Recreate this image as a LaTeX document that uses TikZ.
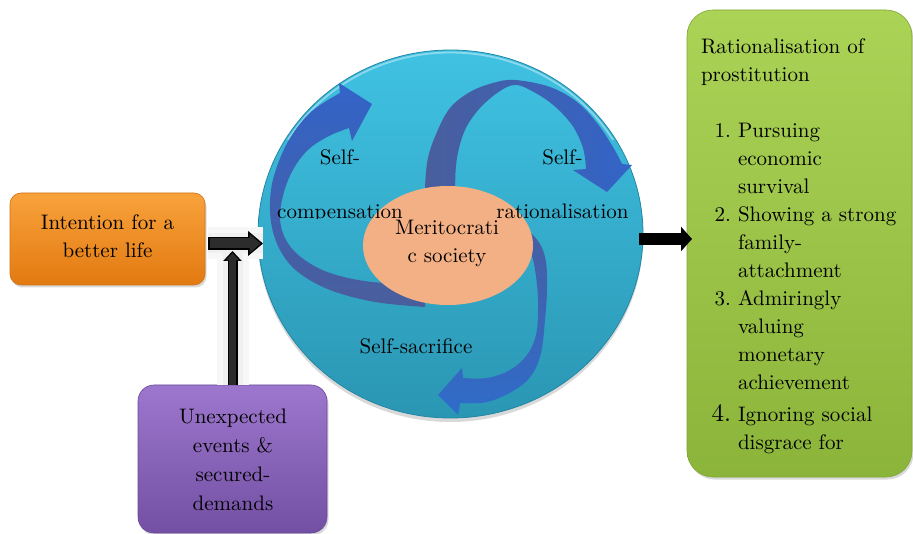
\documentclass[tikz,border=0pt]{standalone}
\usepackage{fontspec}
\setmainfont{lmroman10-regular.otf}
\usetikzlibrary{shapes.geometric,arrows.meta,shadows,calc}
\definecolor{orTop}{HTML}{F9A23C}
\definecolor{orBot}{HTML}{E27A10}
\definecolor{orEdge}{HTML}{D07218}
\definecolor{puTop}{HTML}{9D77CD}
\definecolor{puBot}{HTML}{7350A4}
\definecolor{puEdge}{HTML}{6A4A98}
\definecolor{grTop}{HTML}{ABD356}
\definecolor{grBot}{HTML}{8BB43A}
\definecolor{grEdge}{HTML}{80A636}
\definecolor{ciTop}{HTML}{40C2E3}
\definecolor{ciBot}{HTML}{2A96B3}
\definecolor{ciEdge}{HTML}{2387A4}
\definecolor{meri}{HTML}{F3B084}
\definecolor{blBright}{HTML}{3264C8}
\definecolor{blSlate}{HTML}{4A5E9C}
\definecolor{arrGray}{HTML}{2C2C2C}
\tikzset{
  txt/.style={inner sep=0pt, outer sep=0pt, font=\fontsize{21}{28.5}\selectfont},
  boxnode/.style={rectangle, inner sep=0pt, outer sep=0pt, line width=0.6pt,
    drop shadow={opacity=0.3, shadow xshift=1.5pt, shadow yshift=-2.5pt}},
  halo/.style={line width=32pt, black!3},
  halo2/.style={line width=20pt, black!6}
}
\begin{document}
\begin{tikzpicture}[x=1pt,y=-1pt]
\useasboundingbox (0,0) rectangle (913,534);

% boxes
\node[boxnode, minimum width=195pt, minimum height=92pt, rounded corners=11pt,
  top color=orTop, bottom color=orBot, draw=orEdge] (orange) at (107.5,239) {};
\node[boxnode, minimum width=189pt, minimum height=148pt, rounded corners=16pt,
  top color=puTop, bottom color=puBot, draw=puEdge] (purple) at (232.5,459) {};
\node[boxnode, minimum width=225pt, minimum height=467pt, rounded corners=26pt,
  top color=grTop, bottom color=grBot, draw=grEdge] (green) at (799.5,243.5) {};

% big circle
\node[ellipse, minimum width=385pt, minimum height=368pt, inner sep=0pt,
  top color=ciTop, bottom color=ciBot, draw=ciEdge, line width=0.8pt,
  drop shadow={opacity=0.3, shadow xshift=0pt, shadow yshift=-4pt}] (circ) at (450.5,234) {};
\begin{scope}
  \clip (250,40) rectangle (660,140);
  \draw[white, opacity=0.4, line width=1.8pt] (circ.center) ellipse [x radius=190pt, y radius=181.5pt];
\end{scope}

% connector coordinates
\coordinate (ls) at ($(orange.east)+(3,4.5)$);
\coordinate (le) at ($(circ.west)+(5.5,9.5)$);
\coordinate (vs) at (purple.north);
\coordinate (ve) at ($(purple.north |- ls)+(0,7.5)$);
\coordinate (rs) at ($(circ.east)+(-4,5)$);
\coordinate (re) at ($(green.west)+(5,-4.5)$);

% halos
\draw[halo] (vs) -- (ve);
\draw[halo] (ls) -- (le);
\draw[halo2] (vs) -- (ve);
\draw[halo2] (ls) -- (le);

% vertical arrow
\draw[line width=10pt, -{Triangle[length=10pt,width=18pt]}] (vs) -- (ve);
\draw[line width=7pt, arrGray, -{Triangle[length=7.5pt,width=13pt]}, shorten >=2pt] (vs) -- (ve);
% horizontal left arrow
\draw[line width=13pt, -{Triangle[length=15pt,width=24pt]}] (ls) -- (le);
\draw[line width=10pt, arrGray, -{Triangle[length=11pt,width=18pt]}, shorten >=2.4pt] ($(ls)+(1.5,0)$) -- (le);
% right arrow
\draw[line width=12pt, -{Triangle[length=11pt,width=24pt]}] (rs) -- (re);

% swirl arrow 1 (self-compensation)
\shade[top color=blBright, middle color=blBright!80!blSlate, bottom color=blSlate]
  plot[smooth, tension=0.6] coordinates {(425,307) (375,302) (330,290) (298,272) (280,250) (271,222) (271,190) (279,161) (292,135) (312,111) (340,93)}
  -- (339,83) -- (372,104) -- (352,141)
  -- plot[smooth, tension=0.6] coordinates {(349,128) (329,136) (309,149) (294,168) (284,192) (280,218) (286,240) (302,258) (330,273) (372,282) (425,284)}
  -- cycle;
% swirl arrow 2 (self-rationalisation)
\shade[left color=blSlate, middle color=blSlate!50!blBright, right color=blBright]
  plot[smooth, tension=0.6] coordinates {(425,215) (425,188) (428,158) (437,132) (450,108) (470,92) (493,83) (515,80) (550,87) (577,102) (597,123) (613,147) (622,164)}
  -- (632,165) -- (607,192) -- (573,170)
  -- plot[smooth, tension=0.6] coordinates {(586,169) (583,148) (572,125) (552,104) (530,90) (515,85) (500,91) (480,108) (465,130) (457,158) (455,188) (455,215)}
  -- cycle;
% swirl arrow 3 (self-sacrifice)
\shade[top color=blSlate!85!blBright, bottom color=blBright!95!cyan]
  plot[smooth, tension=0.6] coordinates {(520,232) (532,256) (537,285) (538,310) (536,335) (527,355) (510,370) (487,378) (463,378)}
  -- (462,368) -- (438,395) -- (458,415)
  -- plot[smooth, tension=0.6] coordinates {(460,403) (487,402) (513,391) (531,376) (541,353) (545,320) (547,290) (546,262) (540,244) (528,230)}
  -- cycle;

% central ellipse
\node[ellipse, minimum width=170pt, minimum height=119pt, inner sep=0pt, fill=meri] (meri) at (448,245.5) {};

% texts
\node[txt, anchor=base] (otext) at (107.5,229.5)
  {\begin{tabular}[t]{@{}c@{}}Intention for a\\better life\end{tabular}};
\node[txt, anchor=base, font=\fontsize{21}{29}\selectfont] (ptext) at (233,424)
  {\begin{tabular}[t]{@{}c@{}}Unexpected\\events \&\\secured-\\demands\end{tabular}};
\node[txt, anchor=base, font=\fontsize{21}{28}\selectfont] (mtext) at (447,235)
  {\begin{tabular}[t]{@{}c@{}}Meritocrati\\c society\end{tabular}};
\node[txt, anchor=base] (c1a) at (340,165) {Self-};
\begin{scope}
  \clip (260,150) rectangle (420,218.3);
  \node[txt, anchor=base] (c1b) at (340,219) {compensation};
\end{scope}
\node[txt, anchor=base] (c2a) at (562.5,165) {Self-};
\node[txt, anchor=base] (c2b) at (562.5,219) {rationalisation};
\node[txt, anchor=base] (c3) at (416,354) {Self-sacrifice};

\node[txt, anchor=base west, font=\fontsize{21}{28}\selectfont] (ghead) at (701,54)
  {\begin{tabular}[t]{@{}l@{}}Rationalisation of\\prostitution\end{tabular}};
\node[txt, anchor=base west, font=\fontsize{21}{27.9}\selectfont] (glist) at (707,138)
  {\begin{tabular}[t]{@{}r@{\hspace{7pt}}l@{}}
  \makebox[24pt][r]{1.} & Pursuing\\
   & economic\\
   & survival\\
  \makebox[24pt][r]{2.} & Showing a strong\\
   & family-\\
   & attachment\\
  \makebox[24pt][r]{3.} & Admiringly\\
   & valuing\\
   & monetary\\
   & achievement\\[5pt]
  \makebox[24pt][r]{\fontsize{25}{27.9}\selectfont 4.} & Ignoring social\\
   & disgrace for
  \end{tabular}};
\end{tikzpicture}
\end{document}
